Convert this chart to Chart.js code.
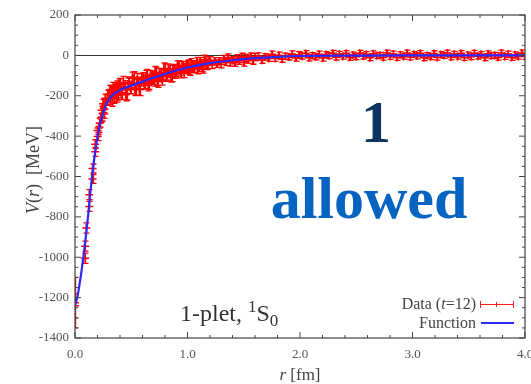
<!DOCTYPE html>
<html><head><meta charset="utf-8">
<script src="https://cdn.jsdelivr.net/npm/chart.js@4/dist/chart.umd.min.js"></script>
<style>
html,body{margin:0;padding:0;background:#fff;}
#wrap{position:relative;width:531px;height:384px;overflow:hidden;font-family:"Liberation Serif","Times New Roman",serif;}
canvas{position:absolute;left:0;top:0;}
.ov{position:absolute;white-space:nowrap;line-height:1;}
</style></head><body>
<div id="wrap">
<canvas id="c" width="531" height="384"></canvas>
<div class="ov" id="ytitle" style="left:33px;top:170px;font-size:18px;color:#444;transform:translate(-50%,-50%) rotate(-90deg);"><i>V</i>(<i>r</i>)&nbsp;&nbsp;[MeV]</div>
<div class="ov" style="left:250px;top:366px;width:100px;text-align:center;font-size:17px;color:#444;"><i>r</i> [fm]</div>
<div class="ov" style="left:276px;top:92px;width:200px;text-align:center;font-size:60px;font-weight:bold;color:#0b3561;">1</div>
<div class="ov" style="left:269px;top:168px;width:200px;text-align:center;font-size:60px;font-weight:bold;color:#0563c1;">allowed</div>
<div class="ov" style="left:180px;top:301px;font-size:24px;color:#333;">1-plet, <span style="position:relative;top:-9px;font-size:17px;">1</span>S<span style="position:relative;top:5px;font-size:17px;">0</span></div>
<div class="ov" style="right:55px;top:296px;font-size:16px;color:#444;">Data (<i>t</i>=12)</div>
<div class="ov" style="right:55px;top:315px;font-size:16px;color:#444;">Function</div>
<div style="position:absolute;left:480px;top:304px;width:33px;height:1px;background:#ff2020;"></div>
<div style="position:absolute;left:480px;top:301px;width:1px;height:7px;background:#ff2020;"></div>
<div style="position:absolute;left:513px;top:301px;width:1px;height:7px;background:#ff2020;"></div>
<div style="position:absolute;left:496px;top:302px;width:1px;height:5px;background:#ff2020;"></div>
<div style="position:absolute;left:481px;top:322px;width:33px;height:2px;background:#2a2aff;"></div>
</div>
<script>
// ---- tick values / labels ----
const xTickValues = [0, 1, 2, 3, 4];
const xTickLabels = ['0.0', '1.0', '2.0', '3.0', '4.0'];
const xMinorTicks = [0.2,0.4,0.6,0.8,1.2,1.4,1.6,1.8,2.2,2.4,2.6,2.8,3.2,3.4,3.6,3.8];
const yTickValues = [200, 0, -200, -400, -600, -800, -1000, -1200, -1400];
const yTickLabels = ['200', '0', '-200', '-400', '-600', '-800', '-1000', '-1200', '-1400'];
const yMinorTicks = [150,100,50,-50,-100,-150,-250,-300,-350,-450,-500,-550,-650,-700,-750,-850,-900,-950,-1050,-1100,-1150,-1250,-1300,-1350];

// ---- lattice data (t=12): r [fm], V [MeV], error [MeV] ----
const dataR = [
0.000,0.000,0.090,0.090,0.100,0.127,0.127,0.156,0.156,0.180,0.180,0.201,0.201,0.220,0.238,0.238,0.255,0.270,0.270,0.285,0.300,0.310,0.320,0.330,0.340,0.350,0.360,0.370,0.380,0.390,
0.40,0.42,0.44,0.46,0.48,0.50,0.52,0.54,0.56,0.58,0.60,0.62,0.64,0.66,0.68,0.70,0.72,0.74,0.76,0.78,
0.80,0.82,0.84,0.86,0.88,0.90,0.92,0.94,0.96,0.98,1.00,1.02,1.04,1.06,1.08,1.10,1.12,1.14,1.16,1.18,
1.20,1.22,1.24,1.26,1.28,1.30,1.32,1.34,1.36,1.38,1.40,1.42,1.44,1.46,1.48,1.50,1.52,1.54,1.56,1.58,1.60,
1.63,1.66,1.69,1.72,1.75,1.78,1.81,1.84,1.87,1.90,1.93,1.96,1.99,2.02,2.05,2.08,2.11,2.14,2.17,2.20,
2.23,2.26,2.29,2.32,2.35,2.38,2.41,2.44,2.47,2.50,2.53,2.56,2.59,2.62,2.65,2.68,2.71,2.74,2.77,2.80,
2.83,2.86,2.89,2.92,2.95,2.98,3.01,3.04,3.07,3.10,3.13,3.16,3.19,3.22,3.25,3.28,3.31,3.34,3.37,3.40,
3.43,3.46,3.49,3.52,3.55,3.58,3.61,3.64,3.67,3.70,3.73,3.76,3.79,3.82,3.85,3.88,3.91,3.94,3.97,4.00,
0.21,0.23,0.25,0.26,0.29,0.31,0.33,0.35,0.37,0.39,
0.41,0.43,0.45,0.47,0.49,0.51,0.53,0.55,0.57,0.59,0.61,0.63,0.65,0.67,0.69,0.71,0.73,0.75,0.77,0.79,
0.81,0.83,0.85,0.87,0.89,0.91,0.93,0.95,0.97,0.99,1.01,1.03,1.05,1.07,1.09,1.11,1.13,1.15,1.17,1.19];
const dataV = [
-1225,-1240,-1005,-945,-855,-748,-690,-612,-560,-478,-440,-402,-372,-335,-305,-272,-262,-246,-212,-228,-192,-218,-176,-205,-158,-214,-168,-150,-198,-140,
-144,-188,-155,-190,-137,-161,-111,-167,-138,-169,-113,-137,-97,-140,-106,-124,-86,-130,-96,-101,
-67,-105,-74,-106,-72,-82,-50,-87,-55,-65,-45,-77,-48,-65,-32,-57,-44,-66,-29,-44,
-24,-47,-29,-41,-29,-44,-18,-33,-11,-35,-24,-36,-14,-27,-7,-35,-13,-20,-6,-26,-8,
-3,-24,-7,-15,6,-15,1,-19,-4,-8,7,-13,3,-4,9,-12,-1,-7,6,-13,
4,-2,11,-9,6,-5,10,-11,2,-7,11,-4,5,-12,8,-2,1,-10,12,-6,
7,-11,3,-5,12,-8,5,-3,10,-12,0,-7,9,-10,4,-1,12,-8,6,-5,
10,-11,2,-7,11,-4,5,-12,8,-2,1,-10,12,-6,7,-11,3,-5,12,-6,
-360,-310,-240,-290,-195,-170,-230,-185,-210,-175,
-188,-134,-195,-142,-159,-113,-169,-119,-168,-122,-139,-102,-148,-102,-115,-83,-121,-94,-119,-65,
-98,-66,-108,-69,-90,-51,-74,-54,-86,-54,-73,-38,-62,-49,-69,-32,-58,-21,-48,-28];
const dataErr = [
125,60,25,25,25,25,25,22,22,22,22,20,20,20,20,20,20,20,20,20,24,24,24,24,24,24,24,24,24,24,
30,30,30,30,30,30,30,30,30,30,28,28,28,28,28,28,28,28,28,28,
24,24,24,24,24,24,24,24,24,24,22,22,22,22,22,22,22,22,22,22,
18,18,18,18,18,18,18,18,18,18,18,18,18,18,18,18,18,18,18,18,18,
15,15,15,15,15,15,15,15,15,15,15,15,15,15,15,15,15,15,15,15,
14,14,14,14,14,14,14,14,14,14,14,14,14,14,14,14,14,14,14,14,
14,14,14,14,14,14,14,14,14,14,14,14,14,14,14,14,14,14,14,14,
14,14,14,14,14,14,14,14,14,14,14,14,14,14,14,14,14,14,14,14,
22,22,22,22,22,22,22,22,22,22,
30,30,30,30,30,30,30,30,30,30,28,28,28,28,28,28,28,28,28,28,
24,24,24,24,24,24,24,24,24,24,22,22,22,22,22,22,22,22,22,22];

// ---- fitted function ----
const funcR = [0,0.02,0.04,0.06,0.08,0.10,0.12,0.14,0.16,0.18,0.20,0.22,0.25,0.28,0.32,0.36,0.40,0.45,0.50,0.60,0.70,0.80,0.90,1.00,1.10,1.20,1.40,1.60,1.80,2.00,2.50,3.00,3.50,4.00];
const funcV = [-1240,-1200,-1135,-1060,-975,-880,-775,-660,-560,-475,-405,-348,-285,-240,-205,-186,-172,-160,-150,-130,-110,-92,-75,-60,-48,-38,-24,-14,-7,-3,-1,0,0,0];

const FONT = '"Liberation Serif","Times New Roman",serif';
const RED = '#ff0000';

const framePlugin = {
  id: 'frame',
  beforeDatasetsDraw(chart) {
    const {ctx, chartArea: a, scales: {x, y}} = chart;
    ctx.save();
    ctx.beginPath(); ctx.rect(a.left, a.top, a.right - a.left, a.bottom - a.top); ctx.clip();
    // zero line
    ctx.strokeStyle = '#333'; ctx.lineWidth = 1;
    const y0 = Math.round(y.getPixelForValue(0)) + 0.5;
    ctx.beginPath(); ctx.moveTo(a.left, y0); ctx.lineTo(a.right, y0); ctx.stroke();
    // error bars
    ctx.strokeStyle = RED; ctx.lineWidth = 1.3;
    ctx.beginPath();
    for (let i = 0; i < dataR.length; i++) {
      const px = Math.round(x.getPixelForValue(dataR[i])) + 0.5;
      const hi = y.getPixelForValue(dataV[i] + dataErr[i]);
      const lo = y.getPixelForValue(dataV[i] - dataErr[i]);
      ctx.moveTo(px, hi); ctx.lineTo(px, lo);
      ctx.moveTo(px - 3, hi); ctx.lineTo(px + 3, hi);
      ctx.moveTo(px - 3, lo); ctx.lineTo(px + 3, lo);
    }
    ctx.stroke();
    ctx.restore();
  },
  afterDraw(chart) {
    const {ctx, chartArea: a, scales: {x, y}} = chart;
    ctx.save();
    ctx.strokeStyle = '#444'; ctx.lineWidth = 1.2;
    ctx.strokeRect(a.left, a.top, a.right - a.left, a.bottom - a.top);
    ctx.lineWidth = 1;
    ctx.beginPath();
    const xt = (v, len) => { const p = x.getPixelForValue(v);
      ctx.moveTo(p, a.bottom); ctx.lineTo(p, a.bottom - len);
      ctx.moveTo(p, a.top); ctx.lineTo(p, a.top + len); };
    const yt = (v, len) => { const p = y.getPixelForValue(v);
      ctx.moveTo(a.left, p); ctx.lineTo(a.left + len, p);
      ctx.moveTo(a.right, p); ctx.lineTo(a.right - len, p); };
    xTickValues.forEach(v => xt(v, 6)); xMinorTicks.forEach(v => xt(v, 3));
    yTickValues.forEach(v => yt(v, 6)); yMinorTicks.forEach(v => yt(v, 3));
    ctx.stroke();
    ctx.restore();
  }
};

new Chart(document.getElementById('c'), {
  type: 'scatter',
  data: {
    datasets: [
      {
        label: 'Function',
        type: 'line',
        data: funcR.map((r, i) => ({x: r, y: funcV[i]})),
        borderColor: '#2a2aff', borderWidth: 2.2, pointRadius: 0,
        cubicInterpolationMode: 'monotone', fill: false, order: 0
      },
      {
        label: 'Data (t=12)',
        data: dataR.map((r, i) => ({x: r, y: dataV[i]})),
        pointStyle: 'cross', pointRadius: 4, borderColor: RED, backgroundColor: RED,
        pointBorderWidth: 1.5, showLine: false, order: 1
      }
    ]
  },
  options: {
    responsive: false, animation: false,
    layout: {padding: {left: 0, top: 15, right: 6, bottom: 0}},
    plugins: {legend: {display: false}, tooltip: {enabled: false}, title: {display: false}},
    scales: {
      x: {
        type: 'linear', min: 0, max: 4,
        grid: {display: false, drawTicks: false}, border: {display: false},
        afterBuildTicks: s => { s.ticks = xTickValues.map(v => ({value: v})); },
        ticks: {
          callback: (v) => xTickLabels[xTickValues.indexOf(v)],
          font: {family: FONT, size: 13}, color: '#555', padding: 9, maxRotation: 0, autoSkip: false
        },
        afterFit: s => { s.height = 46; s.paddingLeft = 0; s.paddingRight = 0; }
      },
      y: {
        type: 'linear', min: -1400, max: 200,
        grid: {display: false, drawTicks: false}, border: {display: false},
        afterBuildTicks: s => { s.ticks = yTickValues.map(v => ({value: v})); },
        ticks: {
          callback: (v) => yTickLabels[yTickValues.indexOf(v)],
          font: {family: FONT, size: 13}, color: '#555', padding: 6, autoSkip: false
        },
        afterFit: s => { s.width = 75; s.paddingTop = 0; s.paddingBottom = 0; }
      }
    }
  },
  plugins: [framePlugin]
});
</script>
</body></html>
